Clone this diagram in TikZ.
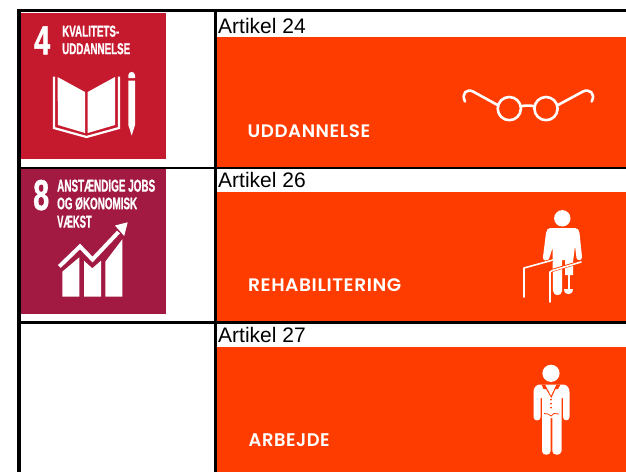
\documentclass[tikz,border=0pt]{standalone}
\usepackage{graphicx}
\usepackage{fontspec}
\setmainfont{Liberation Sans}
\newfontfamily\sdgfont[FakeBold=1.2]{Liberation Sans Bold}
\newfontfamily\capfont[LetterSpace=3.0]{Poppins SemiBold}
\definecolor{sdgred}{RGB}{197,25,45}
\definecolor{sdgpurple}{RGB}{162,25,66}
\definecolor{crpdorange}{RGB}{255,60,0}
\newcommand{\fitcaps}[3]{\resizebox{#1pt}{#2pt}{\sdgfont #3}}
\tikzset{
  gridline/.style={line width=#1, black},
  arttext/.style={anchor=base west, inner sep=0pt, font=\fontsize{21}{21}\selectfont, text=black},
  sdgtext/.style={anchor=south west, inner sep=0pt, text=white},
  captext/.style={anchor=south west, inner sep=0pt, text=white},
  icon/.style={fill=white, draw=none},
  iconline/.style={draw=white, line cap=round, line join=round},
}
\begin{document}
\begin{tikzpicture}[x=1pt,y=-1pt]
\useasboundingbox (0,0) rectangle (626,472);
\fill[white] (0,0) rectangle (626,472);
% panels
\fill[sdgred] (20,13) rectangle (166,159);
\fill[sdgpurple] (20,168) rectangle (166,314);
\fill[crpdorange] (217,37) rectangle (626,167);
\fill[crpdorange] (217,192) rectangle (626,321);
\fill[crpdorange] (217,347) rectangle (626,472);
% grid
\draw[gridline=3.5pt] (18.8,10.7) -- (626,10.7);
\draw[gridline=3.5pt] (18.8,9) -- (18.8,472);
\draw[gridline=3pt] (215.5,9) -- (215.5,472);
\draw[gridline=2.5pt] (18.8,168) -- (626,168);
\draw[gridline=2.8pt] (18.8,322.3) -- (626,322.3);
% article labels
\node[arttext] (a24) at (218,33) {Artikel 24};
\node[arttext] (a26) at (218,187.5) {Artikel 26};
\node[arttext] (a27) at (218,342.5) {Artikel 27};
% orange captions
\node[captext] (c1) at (247.5,138) {\resizebox{122.5pt}{12.8pt}{\capfont UDDANNELSE}};
\node[captext] (c2) at (248,292) {\resizebox{153pt}{12.8pt}{\capfont REHABILITERING}};
\node[captext] (c3) at (248.5,447) {\resizebox{81pt}{12.8pt}{\capfont ARBEJDE}};
% SDG 4
\node[sdgtext] (n4) at (34,54.5) {\fitcaps{16}{28}{4}};
\node[sdgtext] (t4a) at (62,37) {\fitcaps{57}{11}{KVALITETS-}};
\node[sdgtext] (t4b) at (62,54.5) {\fitcaps{68}{11}{UDDANNELSE}};
% book
\fill[icon] (57.5,77) -- (85,92) -- (85,133) -- (58,125) -- cycle;
\fill[icon] (87.7,92) -- (115,77) -- (115,125) -- (87.7,133) -- cycle;
\draw[white, line width=2.2pt, line join=miter] (54,76.5) -- (54,128) -- (86.5,137) -- (119,128) -- (119,76.5);
% pencil
\fill[icon] (128.3,78) -- (128.3,75.3) .. controls (128.3,70.8) and (135,70.8) .. (135,75.3) -- (135,78) -- cycle;
\fill[icon] (128.3,80.5) -- (135,80.5) -- (135,125) -- (131.7,135.5) -- (128.3,125) -- cycle;
% SDG 8
\node[sdgtext] (n8) at (33,210.5) {\fitcaps{16}{30}{8}};
\node[sdgtext] (t8a) at (57,192) {\fitcaps{98}{12}{ANSTÆNDIGE JOBS}};
\node[sdgtext] (t8b) at (57,210) {\fitcaps{80}{12}{OG ØKONOMISK}};
\node[sdgtext] (t8c) at (57,228) {\fitcaps{34.5}{12}{VÆKST}};
% chart
\fill[icon] (62.3,271.7) -- (79.3,257.3) -- (79.3,296.7) -- (62.3,296.7) -- cycle;
\fill[icon] (84,260.7) -- (92.3,268.3) -- (101,260.7) -- (101,296.7) -- (84,296.7) -- cycle;
\fill[icon] (105.3,261.7) -- (122.3,239.3) -- (122.3,296.7) -- (105.3,296.7) -- cycle;
\draw[white, line width=4pt, line join=miter] (59.3,266.5) -- (80,246.5) -- (92.5,259.5) -- (118.5,232);
\fill[icon] (127.7,222.3) -- (115,225.5) -- (124.2,236) -- cycle;
% glasses
\begin{scope}[iconline, line width=2.6pt]
\draw (509.3,108.6) circle[radius=11.6];
\draw (546,108.6) circle[radius=11.6];
\draw (521,106.3) .. controls (525,105.3) and (530,105.3) .. (534.5,106.3);
\draw (497.5,105) -- (473,91.5) .. controls (467,88.5) and (461,93) .. (465,101.5);
\draw (558,105) -- (583,91.5) .. controls (589,88.5) and (596,93) .. (591.7,101.5);
\end{scope}
% rehabilitation figure
\fill[icon] (562.3,218.3) circle[radius=8.2];
\fill[icon] (550,228) -- (575,228) .. controls (578,228) and (579,230) .. (579.5,233)
  -- (582,257) .. controls (582.3,261) and (577,261) .. (576.5,258)
  -- (575,246) -- (573,262) -- (573,275) -- (565,275) -- (565,260) -- (562,260) -- (562,291)
  .. controls (561.5,296.5) and (553.5,296.5) .. (553,291) -- (552.5,248)
  -- (549,259) .. controls (547.5,262) and (542.5,261) .. (543,257)
  -- (546,233) .. controls (546.5,230) and (548,228) .. (550,228) -- cycle;
\draw[white, line width=2pt] (568.5,275) -- (568.5,290);
\fill[icon] (563.5,289) -- (573,289) .. controls (573,296) and (563.5,296) .. (563.5,289) -- cycle;
\draw[crpdorange, line width=3pt] (549,272) -- (552,270.5) -- (582,261.5);
\draw[crpdorange, line width=3pt] (526,268) -- (553,260);
\draw[iconline, line width=1.6pt] (524,297) -- (524,268) -- (553,260);
\draw[iconline, line width=1.6pt] (550,302) -- (550,272) -- (552.5,270.5) -- (581,262);
% worker
\fill[icon] (551,373.3) circle[radius=8.6];
\fill[icon] (540,384.5) -- (563,384.5) .. controls (567,384.5) and (569.5,388) .. (569.5,392)
  -- (569.5,417) .. controls (569.5,421.5) and (563,421.5) .. (563,417) -- (563,398) -- (561.5,398)
  -- (561.5,451) .. controls (561.5,456) and (552.3,456) .. (552.3,451) -- (552.3,418) -- (550.7,418)
  -- (550.7,451) .. controls (550.7,456) and (542,456) .. (542,451) -- (542,398) -- (540.7,398)
  -- (540.7,417) .. controls (540.7,421.5) and (533.5,421.5) .. (533.5,417) -- (533.5,392)
  .. controls (533.5,388) and (536,384.5) .. (540,384.5) -- cycle;
\fill[crpdorange] (541.5,384.5) -- (545,384.5) -- (551,396) -- (556.5,384.5) -- (560.5,384.5) -- (558,389) -- (555.5,389) -- (551.3,398) -- (546,389) -- (543.5,389) -- cycle;
\fill[crpdorange] (551,399.5) circle[radius=1];
\fill[crpdorange] (551,403.5) circle[radius=1];
\fill[crpdorange] (551,407.5) circle[radius=1];
\draw[crpdorange, line width=0.8pt] (544,413.5) -- (548,414) -- (551,416) -- (554,413.5) -- (559,414);
\end{tikzpicture}
\end{document}
